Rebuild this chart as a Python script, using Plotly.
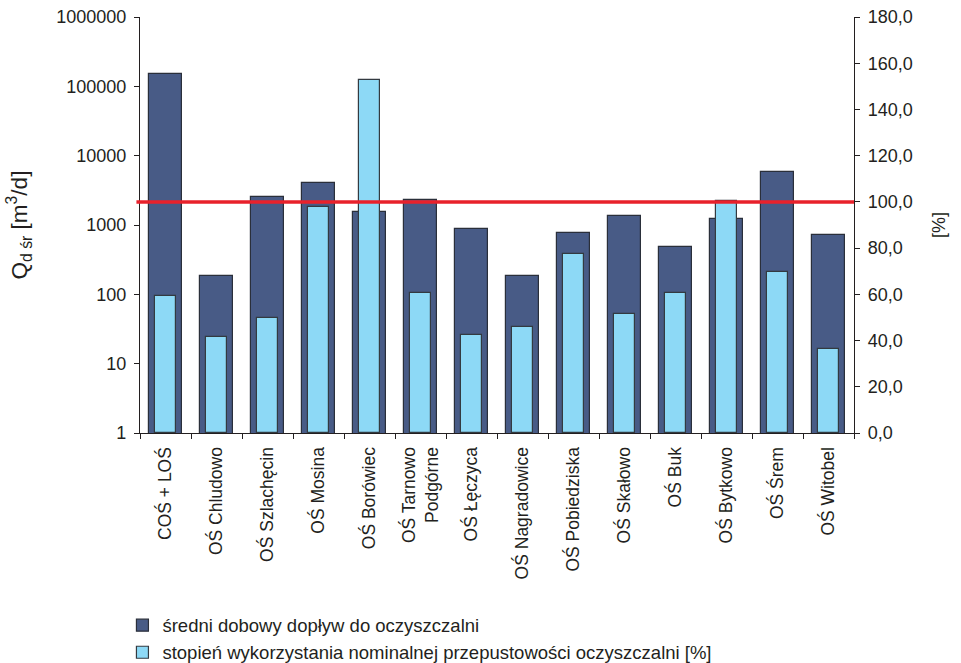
import plotly.graph_objects as go

# Wastewater treatment plants
categories = [
    "COŚ + LOŚ", "OŚ Chludowo", "OŚ Szlachęcin", "OŚ Mosina", "OŚ Borówiec",
    "OŚ Tarnowo<br>Podgórne", "OŚ Łęczyca", "OŚ Nagradowice", "OŚ Pobiedziska",
    "OŚ Skałowo", "OŚ Buk", "OŚ Bytkowo", "OŚ Śrem", "OŚ Witobel",
]

# Average daily inflow [m3/d] (log axis, left)
inflow = [152000, 184, 2530, 3990, 1560, 2290, 877, 184, 774, 1360, 477, 1220, 5750, 710]

# Utilisation of nominal capacity [%] (linear axis, right)
utilisation = [59.4, 41.7, 49.8, 97.9, 152.7, 60.4, 42.4, 46.0, 77.6, 51.5, 60.4, 100.5, 69.5, 36.5]

# Reference level for 100 % utilisation
limit_pct = 100

left_ticks = [1, 10, 100, 1000, 10000, 100000, 1000000]
left_ticktext = ["1", "10", "100", "1000", "10000", "100000", "1000000"]
right_ticks = [0, 20, 40, 60, 80, 100, 120, 140, 160, 180]
right_ticktext = ["0,0", "20,0", "40,0", "60,0", "80,0", "100,0", "120,0", "140,0", "160,0", "180,0"]

FONT = "Liberation Sans, Arial, sans-serif"
INK = "#231f20"
DARK = "#485b86"
LIGHT = "#8dd9f6"
RED = "#e8212b"

n = len(categories)
boundaries = [i - 0.5 for i in range(n + 1)]

fig = go.Figure()

fig.add_trace(go.Bar(
    x=categories, y=inflow, yaxis="y", width=0.66,
    name="średni dobowy dopływ do oczyszczalni",
    marker=dict(color=DARK, line=dict(color="#2a2f3a", width=1.2)),
))
fig.add_trace(go.Bar(
    x=categories, y=utilisation, yaxis="y2", width=0.4,
    name="stopień wykorzystania nominalnej przepustowości oczyszczalni [%]",
    marker=dict(color=LIGHT, line=dict(color="#333a40", width=1.2)),
))

fig.add_shape(
    type="line", xref="paper", yref="y2",
    x0=-0.005, x1=1.0, y0=limit_pct, y1=limit_pct,
    line=dict(color=RED, width=3.5), layer="above",
)

axis_common = dict(showline=True, linecolor=INK, linewidth=1.2, tickcolor=INK,
                   showgrid=False, zeroline=False)

fig.update_layout(
    width=961, height=663,
    margin=dict(l=140, r=107, t=17, b=230, autoexpand=False),
    paper_bgcolor="white", plot_bgcolor="white",
    font=dict(family=FONT, size=18, color=INK),
    barmode="overlay",
    bargap=0,
    showlegend=True,
    legend=dict(
        x=-0.0246, y=-0.4175, xanchor="left", yanchor="top",
        orientation="v", font=dict(size=18.5, family=FONT),
        itemwidth=30, tracegroupgap=0, bgcolor="rgba(0,0,0,0)",
        traceorder="normal",
    ),
    xaxis=dict(
        type="category", ticks="outside", tickson="boundaries", ticklen=5,
        tickangle=-90, tickfont=dict(size=17.5), ticklabelstandoff=6,
        **axis_common,
    ),
    # inward half of the category boundary ticks
    xaxis2=dict(
        overlaying="x", anchor="y", range=[-0.5, n - 0.5], tickvals=boundaries,
        ticks="inside", ticklen=5, showticklabels=False, **axis_common,
    ),
    yaxis=dict(
        type="log", range=[0, 6], ticks="outside", ticklen=5,
        tickvals=left_ticks, ticktext=left_ticktext, tickfont=dict(size=18),
        ticklabelstandoff=4,
        title=dict(text="Q<sub>d śr</sub> [m<sup>3</sup>/d]", font=dict(size=22.5), standoff=22),
        **axis_common,
    ),
    yaxis2=dict(
        overlaying="y", side="right", range=[0, 180], ticks="outside", ticklen=5,
        tickvals=right_ticks, ticktext=right_ticktext, tickfont=dict(size=18),
        ticklabelstandoff=4,
        title=dict(text="[%]", font=dict(size=18), standoff=20),
        **axis_common,
    ),
    # inward halves of the value-axis ticks
    yaxis3=dict(
        overlaying="y", side="left", anchor="x", type="log", range=[0, 6],
        tickvals=left_ticks, ticks="inside", ticklen=6, showticklabels=False,
        **axis_common,
    ),
    yaxis4=dict(
        overlaying="y", side="right", anchor="x", range=[0, 180],
        tickvals=right_ticks, ticks="inside", ticklen=6, showticklabels=False,
        **axis_common,
    ),
)

fig.write_html("out.html")
